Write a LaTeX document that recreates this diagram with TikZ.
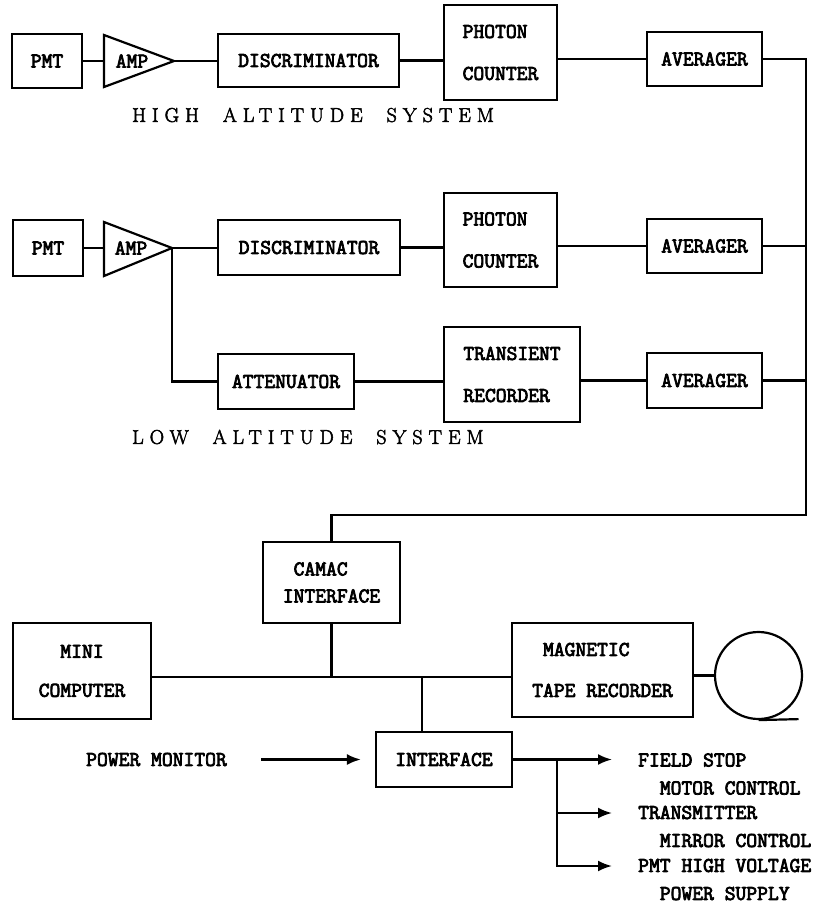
\documentclass[tikz,border=0pt]{standalone}
\usepackage{fontspec}
\newfontfamily\lab[FakeBold=3.6]{Latin Modern Mono}
\newfontfamily\sysfont[LetterSpace=30,FakeBold=2.6]{Latin Modern Roman}
\usetikzlibrary{arrows.meta}
\tikzset{
  blk/.style={draw, line width=2.2bp, inner sep=0pt, align=center,
    font=\lab\fontsize{21bp}{28bp}\selectfont},
  lbl/.style={inner sep=0pt, align=left, font=\lab\fontsize{21bp}{28bp}\selectfont},
  syslbl/.style={inner sep=0pt, anchor=west, font=\sysfont\fontsize{20bp}{24bp}\selectfont},
  wire/.style={line width=2.2bp},
  arr/.style={line width=2.2bp, -{Latex[length=14bp,width=11bp]}}
}
\begin{document}
\begin{tikzpicture}[x=1bp,y=-1bp]
\useasboundingbox (0,0) rectangle (816,905);
% ---------- high altitude system
\node[blk, minimum width=70bp, minimum height=54bp] (pmt1) at (47,61) {PMT};
\draw[wire, line join=miter] (104,35) -- (174,61) -- (104,87) -- cycle;
\coordinate (a1i) at (104,61);
\coordinate (a1o) at (174,61);
\node[lbl] (amp1) at (132,61) {AMP};
\node[blk, minimum width=181bp, minimum height=53bp] (disc1) at (308.5,60.5) {DISCRIMINATOR};
\node[blk, minimum width=113bp, minimum height=95bp, align=left] (pc1) at (500.5,52.5) {PHOTON\\[14bp]COUNTER};
\node[blk, minimum width=115bp, minimum height=54bp] (avg1) at (704.5,59) {AVERAGER};
\node[syslbl] (hs) at (132,115) {HIGH\hspace{1.2em}ALTITUDE\hspace{1.2em}SYSTEM};
% ---------- low altitude system
\node[blk, minimum width=70bp, minimum height=56bp] (pmt2) at (48,248) {PMT};
\draw[wire, line join=miter] (104,222) -- (172,248) -- (104,276) -- cycle;
\coordinate (a2i) at (104,248);
\coordinate (a2o) at (172,248);
\node[lbl] (amp2) at (131,248) {AMP};
\node[blk, minimum width=182bp, minimum height=55bp] (disc2) at (309,247.5) {DISCRIMINATOR};
\node[blk, minimum width=113bp, minimum height=94bp, align=left] (pc2) at (500.5,240) {PHOTON\\[14bp]COUNTER};
\node[blk, minimum width=115bp, minimum height=54bp] (avg2) at (704.5,246) {AVERAGER};
\node[blk, minimum width=136bp, minimum height=55bp] (att) at (286,381.5) {ATTENUATOR};
\node[blk, minimum width=136bp, minimum height=95bp, align=left] (tr) at (512,374.5) {TRANSIENT\\[14bp]RECORDER};
\node[blk, minimum width=115bp, minimum height=55bp] (avg3) at (704.5,380.5) {AVERAGER};
\node[syslbl] (ls) at (132,437) {LOW\hspace{1.2em}ALTITUDE\hspace{1.2em}SYSTEM};
% ---------- computer part
\node[blk, minimum width=137bp, minimum height=81bp, align=left] (camac) at (331.5,582.5) {\hphantom{I}CAMAC\\[-1bp]INTERFACE};
\node[blk, minimum width=138bp, minimum height=96bp] (mini) at (82,671) {MINI\\[11bp]COMPUTER};
\node[blk, minimum width=181bp, minimum height=94bp, align=left] (mag) at (602.5,670) {\hphantom{T}MAGNETIC\\[13bp]TAPE RECORDER};
\node[draw, line width=2.2bp, circle, minimum size=87bp, inner sep=0pt] (reel) at (758.5,675.5) {};
\node[blk, minimum width=136bp, minimum height=55bp] (ifc) at (444,759.5) {INTERFACE};
\node[lbl] (pm) at (156.5,759.5) {POWER MONITOR};
\node[lbl, anchor=west] (fs) at (638,774) {FIELD STOP\\\hphantom{XX}MOTOR CONTROL};
\node[lbl, anchor=west] (tm) at (638,826.5) {TRANSMITTER\\\hphantom{XX}MIRROR CONTROL};
\node[lbl, anchor=west] (ps) at (638,879.5) {PMT HIGH VOLTAGE\\\hphantom{XX}POWER SUPPLY};
% ---------- connectors
\draw[wire] (pmt1.east) -- (a1i);
\draw[wire] (a1o) -- (disc1.west |- a1o);
\draw[wire] (disc1.east) -- (disc1.east -| pc1.west);
\draw[wire] (avg1.west -| pc1.east) -- (avg1.west);
\draw[wire] (pmt2.east) -- (a2i);
\draw[wire] (a2o) -- (disc2.west |- a2o);
\draw[wire] (disc2.east) -- (disc2.east -| pc2.west);
\draw[wire] (avg2.west -| pc2.east) -- (avg2.west);
\draw[wire] (a2o) |- (att.west);
\draw[wire] (att.east) -- (att.east -| tr.west);
\draw[wire] (avg3.west -| tr.east) -- (avg3.west);
\coordinate (sp) at (806,515);
\draw[wire] (avg1.east) -| (sp) -| (camac.north);
\draw[wire] (avg2.east) -- (avg2.east -| sp);
\draw[wire] (avg3.east) -- (avg3.east -| sp);
\coordinate (bj1) at (331.5,677);
\coordinate (bj2) at (422,677);
\draw[wire] (camac.south) -- (bj1);
\draw[wire] (mini.east |- bj1) -- (mag.west |- bj1);
\draw[wire] (bj2) -- (bj2 |- ifc.north);
\draw[wire] (mag.east |- reel.west) -- (reel.west);
\draw[wire] (reel.south) -- ++(40,-1);
\draw[arr, shorten <=34bp, shorten >=14bp] (pm.east) -- (ifc.west);
\coordinate (t1) at (612,759.5);
\coordinate (t2) at (612,813);
\coordinate (t3) at (612,866);
\coordinate (br) at (557,759.5);
\draw[arr] (ifc.east) -- (t1);
\draw[arr] (br) |- (t3);
\draw[arr] (br |- t2) -- (t2);
\end{tikzpicture}
\end{document}
